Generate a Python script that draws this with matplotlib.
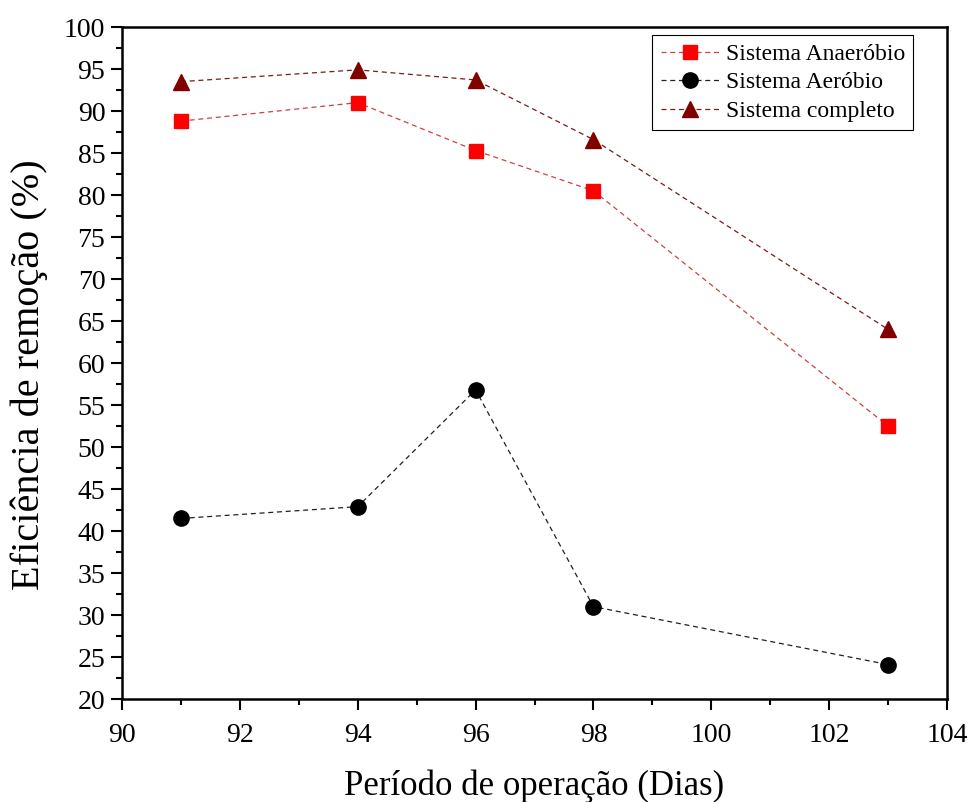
import matplotlib
matplotlib.use("Agg")
import matplotlib.pyplot as plt
from matplotlib.ticker import MultipleLocator

plt.rcParams["font.family"] = ["Liberation Serif", "DejaVu Serif"]

dias = [91, 94, 96, 98, 103]
anaerobio = [88.8, 91.0, 85.3, 80.5, 52.5]
aerobio = [41.5, 42.9, 56.8, 31.0, 24.1]
completo = [93.5, 94.9, 93.7, 86.6, 64.0]

fig = plt.figure(figsize=(9.7, 8.02), dpi=100)
ax = fig.add_axes([0.1258, 0.1284, 0.8505, 0.8379])

ax.plot(dias, anaerobio, ls=(0, (4, 3)), lw=0.9, color="#d04040", marker="s",
        ms=10, mfc="#ff0000", mec="#ff0000", label="Sistema Anaeróbio")
ax.plot(dias, aerobio, ls=(0, (4, 3)), lw=0.9, color="#202020", marker="o",
        ms=11, mfc="black", mec="black", label="Sistema Aeróbio")
ax.plot(dias, completo, ls=(0, (4, 3)), lw=0.9, color="#7a1a1a", marker="^",
        ms=12, mfc="#800000", mec="#800000", label="Sistema completo")

ax.set_xlim(90, 104)
ax.set_ylim(20, 100)
ax.xaxis.set_major_locator(MultipleLocator(2))
ax.xaxis.set_minor_locator(MultipleLocator(1))
ax.yaxis.set_major_locator(MultipleLocator(5))
ax.yaxis.set_minor_locator(MultipleLocator(2.5))
ax.tick_params(which="major", direction="out", length=8, width=1.5, labelsize=20)
ax.tick_params(axis="x", which="major", pad=9)
ax.tick_params(axis="y", which="major", pad=4)
ax.tick_params(which="minor", direction="out", length=4, width=1.5)
for s in ax.spines.values():
    s.set_linewidth(1.8)

ax.set_xlabel("Período de operação (Dias)", fontsize=25, labelpad=16)
ax.set_ylabel("Eficiência de remoção (%)", fontsize=29)
ax.yaxis.set_label_coords(-0.09, 0.483)

leg = ax.legend(loc="upper right", bbox_to_anchor=(0.9588, 0.988), fontsize=17,
                frameon=True, fancybox=False, edgecolor="black", framealpha=1,
                borderaxespad=0, handlelength=2.5, handletextpad=0.25,
                labelspacing=0.3, borderpad=0.35, markerscale=1.0)
leg.get_frame().set_linewidth(0.8)

fig.savefig("out.png", dpi=100)
